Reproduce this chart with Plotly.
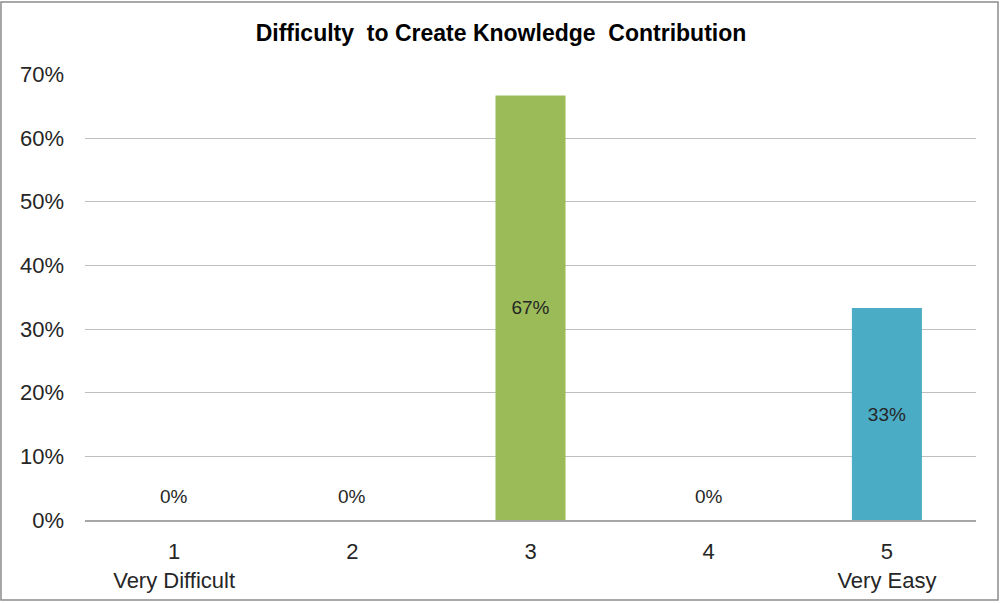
import plotly.graph_objects as go

categories = ["1<br>Very Difficult", "2", "3", "4", "5<br>Very Easy"]
values = [0.0, 0.0, 0.667, 0.0, 0.333]
labels = ["0%", "0%", "67%", "0%", "33%"]
colors = ["#9BBB59", "#9BBB59", "#9BBB59", "#9BBB59", "#4BACC6"]
y_ticks = [0, 0.1, 0.2, 0.3, 0.4, 0.5, 0.6, 0.7]
y_tick_text = ["0%", "10%", "20%", "30%", "40%", "50%", "60%", "70%"]

FONT = "Liberation Sans, Arial, sans-serif"

fig = go.Figure()
fig.add_trace(go.Bar(
    x=list(range(len(categories))), y=values,
    marker=dict(color=colors, line=dict(width=0)),
    text=[l if v > 0 else "" for l, v in zip(labels, values)],
    textposition="inside", insidetextanchor="middle",
    textfont=dict(family=FONT, size=19, color="#262626"),
    hoverinfo="skip",
))

for i, (v, l) in enumerate(zip(values, labels)):
    if v == 0:
        fig.add_annotation(x=i, y=0, text=l, showarrow=False, yanchor="bottom",
                           yshift=11, font=dict(family=FONT, size=19, color="#262626"))

fig.add_shape(type="rect", xref="paper", yref="paper",
              x0=-0.0943, x1=1.0247, y0=-0.1794, y1=1.1614,
              line=dict(color="#8C8C8C", width=1.5), fillcolor="rgba(0,0,0,0)", layer="below")

fig.update_layout(
    width=1002, height=603,
    margin=dict(l=85, r=26, t=74, b=83),
    paper_bgcolor="white", plot_bgcolor="white",
    bargap=0.607,
    showlegend=False,
    title=dict(text="<b>Difficulty  to Create Knowledge  Contribution</b>",
               x=0.5, xanchor="center", y=0.945, yanchor="middle",
               font=dict(family=FONT, size=23, color="#000000")),
    font=dict(family=FONT, size=22, color="#262626"),
)
fig.update_yaxes(range=[0, 0.7008], tickvals=y_ticks, ticktext=y_tick_text,
                 showgrid=True, gridcolor="#BFBFBF", gridwidth=1.2,
                 zeroline=False, showline=False, ticks="", ticklabelstandoff=20,
                 automargin=False,
                 tickfont=dict(family=FONT, size=22, color="#262626"))
fig.update_xaxes(tickvals=list(range(len(categories))), ticktext=categories,
                 range=[-0.5, len(categories) - 0.5],
                 showline=True, linecolor="#A6A6A6", linewidth=1.5,
                 ticks="", ticklabelstandoff=11, automargin=False,
                 tickfont=dict(family=FONT, size=22, color="#262626"))

fig.write_html("out.html", config={"displayModeBar": False},
               post_script="document.body.style.margin='0';")
